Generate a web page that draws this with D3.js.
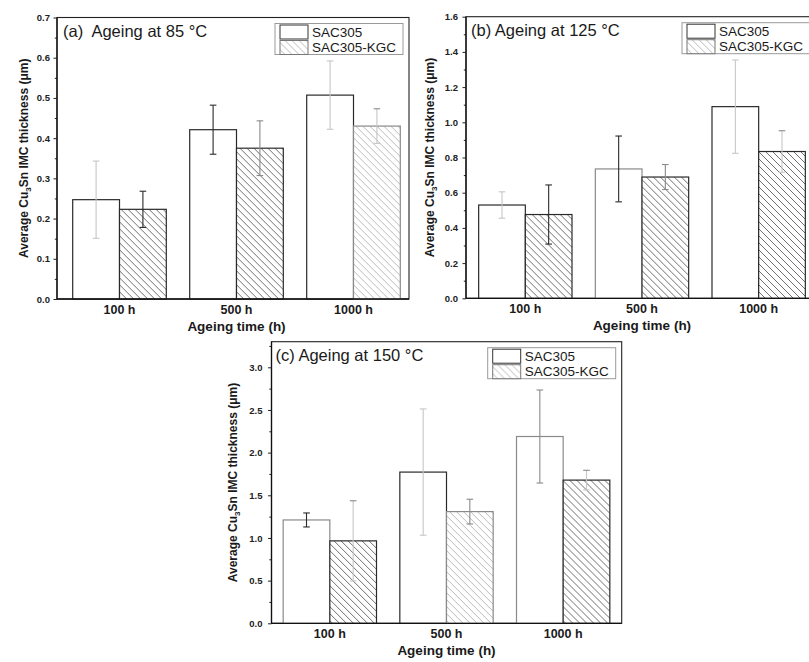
<!DOCTYPE html>
<html>
<head>
<meta charset="utf-8">
<script src="https://cdn.jsdelivr.net/npm/d3@7"></script>
<style>
  body { margin: 0; background: #fff; }
  svg { display: block; font-family: "Liberation Sans", Arial, sans-serif; }
</style>
</head>
<body>
<svg id="fig" width="809" height="662"></svg>
<script>
// ---- data -------------------------------------------------------------
const categories = ["100 h", "500 h", "1000 h"];
const seriesNames = ["SAC305", "SAC305-KGC"];

// Ageing at 85 °C
const sac85 = [0.247, 0.421, 0.507];
const sac85Err = [0.096, 0.061, 0.085];
const kgc85 = [0.223, 0.375, 0.430];
const kgc85Err = [0.045, 0.068, 0.043];
const yTicks85 = [0.0, 0.1, 0.2, 0.3, 0.4, 0.5, 0.6, 0.7];

// Ageing at 125 °C
const sac125 = [0.530, 0.735, 1.089];
const sac125Err = [0.075, 0.187, 0.265];
const kgc125 = [0.476, 0.689, 0.834];
const kgc125Err = [0.168, 0.071, 0.118];
const yTicks125 = [0.0, 0.2, 0.4, 0.6, 0.8, 1.0, 1.2, 1.4, 1.6];

// Ageing at 150 °C
const sac150 = [1.211, 1.772, 2.189];
const sac150Err = [0.082, 0.740, 0.545];
const kgc150 = [0.966, 1.309, 1.678];
const kgc150Err = [0.470, 0.145, 0.115];
const yTicks150 = [0.0, 0.5, 1.0, 1.5, 2.0, 2.5, 3.0];

const xTitle = "Ageing time (h)";

// ---- styling ----------------------------------------------------------
const tone = { dark: "#2a2a2a", mid: "#8a8a8a", light: "#c6c6c6" };

const panels = [
  {
    title: "(a)  Ageing at 85 °C",
    sac: sac85, sacErr: sac85Err, kgc: kgc85, kgcErr: kgc85Err,
    ticks: yTicks85, yMax: 0.7,
    frame: { x0: 57, x1: 409, y0: 17.5, y1: 299 },
    band: [61, 412], yTitleDx: -29, tickLabelDx: -7, titleDx: 6,
    sacErrTone: ["light", "dark", "light"], kgcErrTone: ["dark", "mid", "light"],
    sacEdge: ["dark", "dark", "dark"], kgcHatch: ["dark", "dark", "light"]
  },
  {
    title: "(b) Ageing at 125 °C",
    sac: sac125, sacErr: sac125Err, kgc: kgc125, kgcErr: kgc125Err,
    ticks: yTicks125, yMax: 1.6,
    frame: { x0: 466, x1: 816, y0: 16.7, y1: 298.3 },
    band: [467, 817], yTitleDx: -32, tickLabelDx: -8, titleDx: 5,
    sacErrTone: ["light", "dark", "light"], kgcErrTone: ["dark", "mid", "light"],
    sacEdge: ["dark", "mid", "dark"], kgcHatch: ["dark", "dark", "dark"]
  },
  {
    title: "(c) Ageing at 150 °C",
    sac: sac150, sacErr: sac150Err, kgc: kgc150, kgcErr: kgc150Err,
    ticks: yTicks150, yMax: 3.3,
    frame: { x0: 271.5, x1: 621.7, y0: 341.7, y1: 623.3 },
    band: [271.5, 621.5], yTitleDx: -35, tickLabelDx: -9, titleDx: 4,
    sacErrTone: ["dark", "light", "mid"], kgcErrTone: ["light", "mid", "light"],
    sacEdge: ["mid", "dark", "mid"], kgcHatch: ["dark", "light", "dark"]
  }
];

const svg = d3.select("#fig");

// diagonal hatch fills
const defs = svg.append("defs");
[["hatch-dark", "#4a4a4a"], ["hatch-light", "#a8a8a8"]].forEach(([id, col]) => {
  const p = defs.append("pattern")
    .attr("id", id)
    .attr("patternUnits", "userSpaceOnUse")
    .attr("width", 7).attr("height", 7);
  p.append("rect").attr("width", 7).attr("height", 7).attr("fill", "#fff");
  p.append("path")
    .attr("d", "M-1,-1 L8,8 M-1,6 L1,8 M6,-1 L8,1")
    .attr("stroke", col).attr("stroke-width", 0.8);
});

panels.forEach(P => {
  const g = svg.append("g");
  const F = P.frame;

  const x = d3.scaleBand().domain(categories).range(P.band)
    .paddingInner(0.2).paddingOuter(0.1);
  const xs = d3.scaleBand().domain(seriesNames).range([0, x.bandwidth()]);
  const y = d3.scaleLinear().domain([0, P.yMax]).range([F.y1, F.y0]);

  // frame
  g.append("rect")
    .attr("x", F.x0).attr("y", F.y0)
    .attr("width", F.x1 - F.x0).attr("height", F.y1 - F.y0)
    .attr("fill", "none").attr("stroke", "#222").attr("stroke-width", 1.1);

  const rows = categories.map((c, i) => ({
    cat: c, i,
    bars: [
      { s: seriesNames[0], v: P.sac[i], e: P.sacErr[i], et: P.sacErrTone[i], edge: P.sacEdge[i] },
      { s: seriesNames[1], v: P.kgc[i], e: P.kgcErr[i], et: P.kgcErrTone[i], hatch: P.kgcHatch[i] }
    ]
  }));

  const grp = g.selectAll("g.cat").data(rows).join("g")
    .attr("class", "cat")
    .attr("transform", d => `translate(${x(d.cat)},0)`);

  grp.selectAll("rect.bar").data(d => d.bars).join("rect")
    .attr("class", "bar")
    .attr("x", d => xs(d.s))
    .attr("y", d => y(d.v))
    .attr("width", xs.bandwidth())
    .attr("height", d => y(0) - y(d.v))
    .attr("fill", d => d.s === seriesNames[0] ? "#fff" :
      (d.hatch === "light" ? "url(#hatch-light)" : "url(#hatch-dark)"))
    .attr("stroke", d => d.s === seriesNames[0] ? tone[d.edge] :
      (d.hatch === "light" ? tone.mid : tone.dark))
    .attr("stroke-width", 1.2);

  // error bars (upper cap always drawn dark enough to read)
  const eb = grp.selectAll("g.err").data(d => d.bars).join("g")
    .attr("class", "err")
    .attr("stroke", d => tone[d.et])
    .attr("stroke-width", 1.1)
    .attr("transform", d => `translate(${xs(d.s) + xs.bandwidth() / 2},0)`);
  eb.append("line")
    .attr("y1", d => y(d.v + d.e)).attr("y2", d => y(d.v - d.e));
  eb.append("line")
    .attr("x1", -3.3).attr("x2", 3.3)
    .attr("y1", d => y(d.v + d.e)).attr("y2", d => y(d.v + d.e))
    .attr("stroke", d => d.et === "light" && d.s === seriesNames[1] ? tone.mid : null);
  eb.append("line")
    .attr("x1", -3.3).attr("x2", 3.3)
    .attr("y1", d => y(d.v - d.e)).attr("y2", d => y(d.v - d.e));

  // y axis: major + minor ticks
  const step = P.ticks[1] - P.ticks[0];
  const minor = d3.range(step / 2, P.yMax + 1e-9, step)
    .filter(v => !P.ticks.some(t => Math.abs(t - v) < 1e-9));
  const yMinor = g.append("g").attr("transform", `translate(${F.x0},0)`)
    .call(d3.axisLeft(y).tickValues(minor).tickSize(2.2).tickFormat(""));
  yMinor.select(".domain").remove();
  yMinor.selectAll("line").attr("stroke", "#222");

  const yAx = g.append("g").attr("transform", `translate(${F.x0},0)`)
    .call(d3.axisLeft(y).tickValues(P.ticks).tickSize(3.5)
      .tickPadding(-P.tickLabelDx - 3.5).tickFormat(d3.format(".1f")));
  yAx.select(".domain").attr("stroke", "#111").attr("stroke-width", 1.3)
    .attr("d", `M0,${F.y0}V${F.y1}`);
  yAx.selectAll("line").attr("stroke", "#222");
  yAx.selectAll("text")
    .attr("font-family", "Liberation Sans, Arial, sans-serif")
    .attr("font-weight", "bold").attr("font-size", 9.5).attr("fill", "#222");

  // x axis
  const xAx = g.append("g").attr("transform", `translate(0,${F.y1})`)
    .call(d3.axisBottom(x).tickSize(0).tickPadding(6));
  xAx.select(".domain").attr("stroke", "#111").attr("stroke-width", 1.3)
    .attr("d", `M${F.x0},0H${F.x1}`);
  xAx.selectAll("text")
    .attr("font-family", "Liberation Sans, Arial, sans-serif")
    .attr("font-weight", "bold").attr("font-size", 12.5).attr("fill", "#1a1a1a");

  // axis titles
  const xMid = (P.band[0] + P.band[1]) / 2;
  g.append("text")
    .attr("x", xMid).attr("y", F.y1 + 32)
    .attr("text-anchor", "middle")
    .attr("font-weight", "bold").attr("font-size", 13.5).attr("fill", "#1a1a1a")
    .text(xTitle);

  const yt = g.append("text")
    .attr("transform", `translate(${F.x0 + P.yTitleDx},${(F.y0 + F.y1) / 2}) rotate(-90)`)
    .attr("text-anchor", "middle")
    .attr("font-weight", "bold").attr("font-size", 12).attr("fill", "#1a1a1a");
  yt.append("tspan").text("Average Cu");
  yt.append("tspan").attr("font-size", 8).attr("dy", 3).text("3");
  yt.append("tspan").attr("dy", -3).text("Sn IMC thickness (μm)");

  // panel title
  g.append("text")
    .attr("x", F.x0 + P.titleDx).attr("y", F.y0 + 19.5)
    .attr("font-size", 16.5).attr("fill", "#1a1a1a")
    .style("white-space", "pre")
    .text(P.title);

  // legend
  const lx = F.x1 - 6 - 128, ly = F.y0 + 6;
  const lg = g.append("g").attr("transform", `translate(${lx},${ly})`);
  lg.append("rect").attr("width", 128).attr("height", 31)
    .attr("fill", "#fff").attr("stroke", "#9a9a9a").attr("stroke-width", 1);
  seriesNames.forEach((s, k) => {
    lg.append("rect")
      .attr("x", 5).attr("y", 1.5 + k * 15.5)
      .attr("width", 28).attr("height", 14)
      .attr("fill", k === 0 ? "#fff" : "url(#hatch-light)")
      .attr("stroke", k === 0 ? "#333" : "#777").attr("stroke-width", 1);
    lg.append("text")
      .attr("x", 37).attr("y", 13 + k * 15)
      .attr("font-size", 13.5).attr("fill", "#1a1a1a")
      .text(s);
  });
});
</script>
</body>
</html>
